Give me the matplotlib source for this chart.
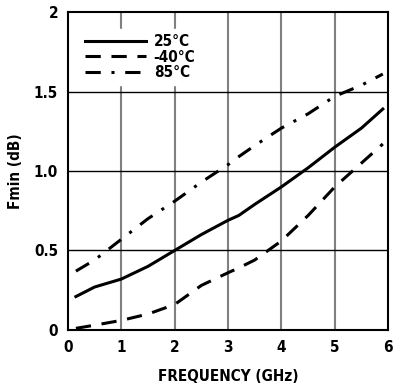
import matplotlib
matplotlib.use("Agg")
import matplotlib.pyplot as plt
from matplotlib import font_manager

# noise figure vs frequency at three temperatures
freq = [0.15, 0.5, 1.0, 1.5, 2.0, 2.5, 3.0, 3.2, 3.5, 4.0, 4.5, 5.0, 5.5, 5.9]
fmin_25 = [0.21, 0.27, 0.32, 0.40, 0.50, 0.60, 0.69, 0.72, 0.79, 0.90, 1.02, 1.15, 1.27, 1.39]
fmin_m40 = [0.01, 0.03, 0.06, 0.10, 0.16, 0.28, 0.36, 0.39, 0.44, 0.56, 0.72, 0.90, 1.05, 1.17]
fmin_85 = [0.37, 0.44, 0.57, 0.70, 0.81, 0.93, 1.04, 1.09, 1.16, 1.27, 1.36, 1.47, 1.54, 1.61]

xticks = [0, 1, 2, 3, 4, 5, 6]
yticks = [0, 0.5, 1.0, 1.5, 2]
ytick_labels = ["0", "0.5", "1.0", "1.5", "2"]

# narrow bold face if there is one
cond = [f for f in font_manager.fontManager.ttflist
        if ("Narrow" in f.name or "Condensed" in f.name or f.stretch == "condensed")
        and f.weight in ("bold", 700, 800, "heavy", "extra bold")]
bold_font = font_manager.FontProperties(fname=cond[0].fname) if cond else \
    font_manager.FontProperties(family="DejaVu Sans", weight="bold")

def fp(size):
    p = bold_font.copy()
    p.set_size(size)
    return p

fig = plt.figure(figsize=(4.09, 3.90), dpi=100)
ax = fig.add_axes([0.166, 0.154, 0.783, 0.815])

ax.plot(freq, fmin_25, color="black", lw=2.2, ls="-", label="25°C")
ax.plot(freq, fmin_m40, color="black", lw=2.2, ls=(0, (5, 3.5)), label="-40°C")
ax.plot(freq, fmin_85, color="black", lw=2.2, ls=(0, (5, 3.5, 1, 3.5)), label="85°C")

ax.set_xlim(0, 6)
ax.set_ylim(0, 2)
ax.set_xticks(xticks)
ax.set_yticks(yticks)
ax.set_yticklabels(ytick_labels)
ax.tick_params(length=0, pad=7)
for lab in ax.get_xticklabels() + ax.get_yticklabels():
    lab.set_fontproperties(fp(11))

for x in xticks[1:-1]:
    ax.axvline(x, color="#808080", lw=1.5, zorder=0)
for y in yticks[1:-1]:
    ax.axhline(y, color="black", lw=1.0, zorder=0)

for s in ax.spines.values():
    s.set_linewidth(1.5)

ax.set_xlabel("FREQUENCY (GHz)", fontproperties=fp(11), labelpad=10)
ax.set_ylabel("Fmin (dB)", fontproperties=fp(11), labelpad=8)

leg = ax.legend(loc="upper left", bbox_to_anchor=(0.015, 0.97), frameon=True,
                fancybox=False, edgecolor="white", framealpha=1.0,
                handlelength=4.0, handletextpad=0.5, prop=fp(11),
                borderpad=0.3, labelspacing=0.05)

fig.savefig("out.png", dpi=100)
